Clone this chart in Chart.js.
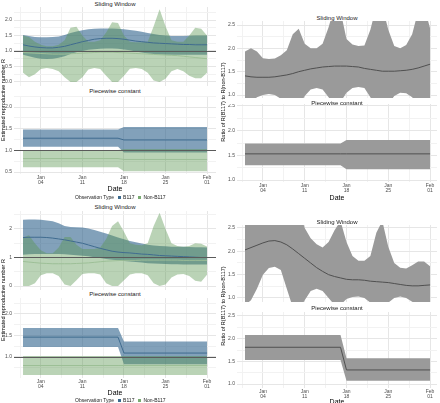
<!DOCTYPE html>
<html>
<head>
<meta charset="utf-8">
<script src="https://cdn.jsdelivr.net/npm/chart.js@4.4.1/dist/chart.umd.min.js"></script>
<style>
  body { margin: 0; background: #fff; width: 440px; height: 403px; position: relative; overflow: hidden;
         font-family: "Liberation Sans", Arial, sans-serif; color: #1a1a1a; }
  canvas { position: absolute; }
  .t { position: absolute; transform: translate(-50%, -50%); white-space: nowrap; line-height: 1; }
  .strip { font-size: 6px; color: #1a1a1a; }
  .xt { font-size: 7px; color: #000; }
  .yt { font-size: 5.5px; color: #000; transform: translate(-50%, -50%) rotate(-90deg); }
  .leg { font-size: 5px; color: #1a1a1a; display: flex; align-items: center; gap: 2px; }
  .key { display: inline-block; width: 3px; height: 3px; }
</style>
</head>
<body>
<script>
// days since Jan 1 (Jan 01 .. Feb 01)
const days = [0,1,2,3,4,5,6,7,8,9,10,11,12,13,14,15,16,17,18,19,20,21,22,23,24,25,26,27,28,29,30,31];
// piecewise constant: change point between Jan 17 and Jan 18
const pwDays = [0, 16, 17, 31];

const xTicks = [3, 10, 17, 24, 31];
const xTickLabels = [["Jan", "04"], ["Jan", "11"], ["Jan", "18"], ["Jan", "25"], ["Feb", "01"]];
const xMinor = [-0.5, 6.5, 13.5, 20.5, 27.5];

// ---- top left: sliding window (B117 / non-B117)
const a1BlueHi  = [1.52,1.48,1.45,1.44,1.44,1.45,1.47,1.52,1.58,1.63,1.67,1.70,1.72,1.73,1.73,1.73,1.72,1.70,1.68,1.65,1.62,1.58,1.55,1.52,1.50,1.48,1.48,1.48,1.49,1.50,1.50,1.50];
const a1BlueMid = [1.20,1.16,1.13,1.11,1.10,1.10,1.12,1.15,1.20,1.25,1.30,1.34,1.38,1.40,1.41,1.41,1.40,1.38,1.35,1.32,1.30,1.28,1.26,1.25,1.24,1.23,1.22,1.21,1.21,1.20,1.20,1.20];
const a1BlueLo  = [0.88,0.83,0.78,0.75,0.74,0.75,0.78,0.83,0.90,0.96,1.00,1.04,1.06,1.07,1.08,1.08,1.07,1.05,1.02,0.98,0.95,0.92,0.90,0.89,0.88,0.88,0.88,0.88,0.88,0.88,0.88,0.88];
const a1GreenHi  = [1.50,1.45,1.30,1.20,1.15,1.15,1.20,1.35,1.75,1.78,1.50,1.30,1.30,1.35,1.60,1.93,1.90,1.50,1.30,1.28,1.28,1.30,1.80,2.35,1.80,1.35,1.30,1.30,1.50,1.75,1.72,1.50];
const a1GreenMid = [0.95,0.94,0.93,0.92,0.91,0.90,0.90,0.90,0.91,0.92,0.93,0.94,0.95,0.96,0.96,0.96,0.95,0.94,0.93,0.92,0.91,0.90,0.89,0.88,0.87,0.86,0.85,0.83,0.81,0.79,0.77,0.75];
const a1GreenLo  = [0.30,0.15,0.25,0.42,0.45,0.42,0.35,0.15,0.00,0.00,0.15,0.40,0.45,0.42,0.20,0.00,0.00,0.20,0.43,0.45,0.42,0.30,0.05,0.00,0.10,0.35,0.42,0.35,0.20,0.12,0.12,0.30];
// ---- top left: piecewise constant
const a2BlueHi = [1.48,1.48,1.54,1.54], a2BlueMid = [1.28,1.28,1.24,1.24], a2BlueLo = [1.08,1.08,0.95,0.95];
const a2GreenHi = [1.01,1.01,1.03,1.03], a2GreenMid = [0.81,0.81,0.79,0.79], a2GreenLo = [0.61,0.61,0.52,0.52];

// ---- top right: ratio, sliding window
const b1Hi  = [1.93,2.00,1.93,1.79,1.77,1.78,1.85,1.96,2.30,2.42,2.10,2.00,2.00,2.10,2.45,2.90,2.80,2.20,2.08,2.05,2.06,2.40,2.90,2.90,2.40,2.05,2.00,2.07,2.30,2.80,2.90,2.43];
const b1Mid = [1.41,1.39,1.38,1.38,1.38,1.39,1.41,1.43,1.46,1.50,1.53,1.56,1.58,1.60,1.61,1.62,1.62,1.62,1.61,1.60,1.57,1.55,1.53,1.51,1.51,1.51,1.52,1.53,1.55,1.58,1.62,1.66];
const b1Lo  = [0.80,0.85,0.95,1.00,1.02,1.00,0.92,0.80,0.70,0.75,0.98,1.12,1.15,1.12,0.95,0.80,0.85,1.05,1.15,1.17,1.15,0.95,0.75,0.70,0.80,0.98,1.05,1.04,0.95,0.80,0.75,0.80];
// ---- top right: ratio, piecewise constant
const b2Hi = [1.74,1.74,1.81,1.81], b2Mid = [1.53,1.53,1.53,1.53], b2Lo = [1.30,1.30,1.22,1.22];

// ---- bottom left: sliding window
const c1BlueHi  = [2.32,2.33,2.33,2.32,2.30,2.27,2.20,2.10,2.07,2.06,2.05,2.02,1.96,1.90,1.84,1.77,1.70,1.64,1.58,1.53,1.49,1.45,1.42,1.40,1.39,1.38,1.38,1.38,1.37,1.36,1.36,1.35];
const c1BlueMid = [1.70,1.71,1.71,1.71,1.70,1.68,1.65,1.62,1.58,1.54,1.50,1.44,1.38,1.32,1.27,1.22,1.19,1.17,1.16,1.14,1.12,1.11,1.09,1.07,1.06,1.05,1.04,1.03,1.02,1.01,1.00,1.00];
const c1BlueLo  = [1.10,1.11,1.12,1.12,1.12,1.12,1.12,1.11,1.10,1.08,1.06,1.04,1.01,0.98,0.95,0.92,0.90,0.88,0.86,0.84,0.82,0.80,0.79,0.78,0.77,0.76,0.76,0.75,0.75,0.75,0.75,0.75];
const c1GreenHi  = [1.70,1.78,1.50,1.25,1.15,1.15,1.35,1.72,1.72,1.45,1.30,1.30,1.30,1.35,1.65,2.10,2.27,1.90,1.50,1.45,1.43,1.50,2.10,2.57,2.00,1.50,1.40,1.38,1.40,1.50,1.48,1.38];
const c1GreenMid = [0.86,0.84,0.82,0.80,0.79,0.78,0.78,0.78,0.78,0.79,0.80,0.81,0.83,0.85,0.87,0.88,0.89,0.90,0.90,0.90,0.91,0.91,0.91,0.91,0.91,0.91,0.91,0.90,0.90,0.90,0.90,0.90];
const c1GreenLo  = [0.00,0.00,0.10,0.38,0.45,0.45,0.35,0.05,0.00,0.20,0.42,0.45,0.45,0.40,0.10,0.00,0.00,0.20,0.40,0.45,0.45,0.38,0.10,0.00,0.05,0.30,0.40,0.42,0.35,0.18,0.15,0.40];
// ---- bottom left: piecewise constant
const c2BlueHi = [1.67,1.67,1.36,1.36], c2BlueMid = [1.46,1.46,1.09,1.09], c2BlueLo = [1.23,1.23,0.83,0.83];
const c2GreenHi = [1.02,1.02,1.02,1.02], c2GreenMid = [0.80,0.80,0.80,0.80], c2GreenLo = [0.58,0.58,0.58,0.58];

// ---- bottom right: ratio, sliding window
const d1Hi  = [2.90,2.90,2.90,2.90,2.90,2.90,2.90,2.90,2.90,2.90,2.50,2.28,2.15,2.08,2.20,2.45,2.65,2.20,1.90,1.80,1.80,1.90,2.40,2.65,2.10,1.75,1.65,1.63,1.70,1.78,1.78,1.68];
const d1Mid = [2.03,2.08,2.13,2.18,2.22,2.23,2.20,2.14,2.05,1.95,1.85,1.75,1.65,1.57,1.50,1.46,1.43,1.40,1.39,1.39,1.38,1.36,1.35,1.34,1.33,1.31,1.29,1.27,1.26,1.26,1.27,1.28];
const d1Lo  = [0.85,0.95,1.20,1.50,1.64,1.67,1.60,1.20,0.80,0.75,0.95,1.15,1.20,1.15,1.00,0.85,0.85,0.98,1.02,1.03,1.00,0.90,0.80,0.80,0.90,1.00,1.03,1.00,0.92,0.85,0.88,0.90];
// ---- bottom right: ratio, piecewise constant
const d2Hi = [2.08,2.08,1.57,1.57], d2Mid = [1.81,1.81,1.31,1.31], d2Lo = [1.53,1.53,1.07,1.07];

const BLUE_FILL = "rgba(46, 98, 140, 0.6)";
const BLUE_LINE = "#3f6b8f";
const GREEN_FILL = "rgba(90, 150, 80, 0.42)";
const GREEN_LINE = "#9dbf97";
const GREY_FILL = "#9a9a9a";
const GREY_LINE = "#505050";

const refLine = {
  id: "refLine",
  afterDatasetsDraw(chart, args, opts) {
    if (opts.value == null) return;
    const { ctx, chartArea: a, scales: { y } } = chart;
    const py = Math.round(y.getPixelForValue(opts.value)) + 0.5;
    ctx.save();
    ctx.strokeStyle = opts.color;
    ctx.lineWidth = 1;
    ctx.beginPath();
    ctx.moveTo(a.left, py);
    ctx.lineTo(a.right, py);
    ctx.stroke();
    ctx.restore();
  }
};

function pts(xs, ys) { return xs.map((x, i) => ({ x, y: ys[i] })); }

// lower edge then upper edge filled back to it
function band(xs, lo, hi, color) {
  return [
    { data: pts(xs, lo), borderWidth: 0, borderColor: "rgba(0,0,0,0)", fill: false },
    { data: pts(xs, hi), borderWidth: 0, borderColor: "rgba(0,0,0,0)", fill: "-1", backgroundColor: color }
  ];
}
function line(xs, ys, color) {
  return { data: pts(xs, ys), borderWidth: 1, borderColor: color, fill: false };
}

function fixAxis(size, horizontal) {
  return s => {
    if (horizontal) s.height = size; else s.width = size;
    s.paddingLeft = s.paddingRight = s.paddingTop = s.paddingBottom = 0;
  };
}

function panel(p) {
  const yW = 14;
  const xH = p.xLabels ? 20 : 0;
  const c = document.createElement("canvas");
  c.width = p.right - p.left + yW;
  c.height = p.bottom - p.top + xH;
  c.style.left = (p.left - yW) + "px";
  c.style.top = p.top + "px";
  document.body.appendChild(c);

  const xAll = xTicks.concat(xMinor).sort((a, b) => a - b);
  const yAll = p.yTicks.concat(p.yMinor).sort((a, b) => a - b);
  const gridColor = major => ctx => major.includes(ctx.tick.value) ? "#e6e6e6" : "#f2f2f2";

  // datasets listed bottom layer first; later ones get a lower order and end up on top
  const n = p.datasets.length;
  const ds = p.datasets.map((d, i) => Object.assign({ order: n - i, pointRadius: 0 }, d));

  new Chart(c, {
    type: "line",
    data: { datasets: ds },
    options: {
      responsive: false,
      animation: false,
      devicePixelRatio: 1,
      layout: { padding: 0 },
      plugins: {
        legend: { display: false },
        tooltip: { enabled: false },
        refLine: { value: p.ref, color: "#5a5a5a" }
      },
      scales: {
        x: {
          type: "linear", min: p.xMin, max: p.xMax,
          border: { display: false },
          grid: { color: gridColor(xTicks), drawTicks: false },
          afterBuildTicks: s => { s.ticks = xAll.map(v => ({ value: v })); },
          afterFit: fixAxis(xH, true),
          ticks: {
            display: !!p.xLabels, autoSkip: false, maxRotation: 0, padding: 1,
            color: "#4d4d4d", font: { size: 5, lineHeight: 1.05, family: "Liberation Sans" },
            callback: v => { const k = xTicks.indexOf(v); return k < 0 ? "" : xTickLabels[k]; }
          }
        },
        y: {
          type: "linear", min: p.yMin, max: p.yMax,
          border: { display: false },
          grid: { color: gridColor(p.yTicks), drawTicks: false },
          afterBuildTicks: s => { s.ticks = yAll.map(v => ({ value: v })); },
          afterFit: fixAxis(yW, false),
          ticks: {
            autoSkip: false, padding: 2,
            color: "#4d4d4d", font: { size: 5, family: "Liberation Sans" },
            callback: v => p.yTicks.includes(v) ? v.toFixed(p.dec) : ""
          }
        }
      }
    },
    plugins: [refLine]
  });
}

function text(cls, x, y, s) {
  const d = document.createElement("div");
  d.className = "t " + cls;
  d.style.left = x + "px";
  d.style.top = y + "px";
  d.textContent = s;
  document.body.appendChild(d);
}

function legend(x, y) {
  const d = document.createElement("div");
  d.className = "leg";
  d.style.position = "absolute";
  d.style.left = x + "px";
  d.style.top = (y - 3) + "px";
  d.innerHTML = '<span>Observation Type</span><span class="key" style="background:#3d6a8e;margin-left:2px"></span><span>B117</span>' +
    '<span class="key" style="background:#7aab72;margin-left:2px"></span><span>Non-B117</span>';
  document.body.appendChild(d);
}

const L = { left: 14, right: 216, xMin: -1.52, xMax: 32.5 };
const R = { left: 237, right: 437, xMin: -1.34, xMax: 32.16 };

function rSets(xs, bHi, bMid, bLo, gHi, gMid, gLo) {
  return [
    ...band(xs, bLo, bHi, BLUE_FILL),
    ...band(xs, gLo, gHi, GREEN_FILL),
    line(xs, bMid, BLUE_LINE),
    line(xs, gMid, GREEN_LINE)
  ];
}
function ratioSets(xs, hi, mid, lo) {
  return [...band(xs, lo, hi, GREY_FILL), line(xs, mid, GREY_LINE)];
}

// ---- top left
panel(Object.assign({}, L, { top: 7, bottom: 86, yMin: -0.13, yMax: 2.42, yTicks: [0, 0.5, 1, 1.5, 2], yMinor: [0.25, 0.75, 1.25, 1.75, 2.25], dec: 1, ref: 1,
  datasets: rSets(days, a1BlueHi, a1BlueMid, a1BlueLo, a1GreenHi, a1GreenMid, a1GreenLo) }));
panel(Object.assign({}, L, { top: 96, bottom: 174, yMin: 0.454, yMax: 2.254, yTicks: [0.5, 1, 1.5, 2], yMinor: [0.75, 1.25, 1.75, 2.25], dec: 1, ref: 1, xLabels: true,
  datasets: rSets(pwDays, a2BlueHi, a2BlueMid, a2BlueLo, a2GreenHi, a2GreenMid, a2GreenLo) }));
// ---- top right
panel(Object.assign({}, R, { top: 21, bottom: 98, yMin: 0.936, yMax: 2.586, yTicks: [1, 1.5, 2, 2.5], yMinor: [1.25, 1.75, 2.25], dec: 1,
  datasets: ratioSets(days, b1Hi, b1Mid, b1Lo) }));
panel(Object.assign({}, R, { top: 104, bottom: 182, yMin: 0.96, yMax: 2.54, yTicks: [1, 1.5, 2, 2.5], yMinor: [1.25, 1.75, 2.25], dec: 1, xLabels: true,
  datasets: ratioSets(pwDays, b2Hi, b2Mid, b2Lo) }));
// ---- bottom left
panel(Object.assign({}, L, { top: 211, bottom: 290, yMin: -0.14, yMax: 2.63, yTicks: [0, 1, 2], yMinor: [0.5, 1.5, 2.5], dec: 0, ref: 1,
  datasets: rSets(days, c1BlueHi, c1BlueMid, c1BlueLo, c1GreenHi, c1GreenMid, c1GreenLo) }));
panel(Object.assign({}, L, { top: 298, bottom: 378, yMin: 0.51, yMax: 2.37, yTicks: [1, 1.5, 2], yMinor: [0.75, 1.25, 1.75, 2.25], dec: 1, ref: 1, xLabels: true,
  datasets: rSets(pwDays, c2BlueHi, c2BlueMid, c2BlueLo, c2GreenHi, c2GreenMid, c2GreenLo) }));
// ---- bottom right
panel(Object.assign({}, R, { top: 225, bottom: 302, yMin: 0.914, yMax: 2.564, yTicks: [1, 1.5, 2, 2.5], yMinor: [1.25, 1.75, 2.25], dec: 1,
  datasets: ratioSets(days, d1Hi, d1Mid, d1Lo) }));
panel(Object.assign({}, R, { top: 312, bottom: 388, yMin: 0.912, yMax: 2.588, yTicks: [1, 1.5, 2, 2.5], yMinor: [1.25, 1.75, 2.25], dec: 1, xLabels: true,
  datasets: ratioSets(pwDays, d2Hi, d2Mid, d2Lo) }));

// strip labels, axis titles, legends
text("strip", 115, 4, "Sliding Window");
text("strip", 115, 90.5, "Piecewise constant");
text("strip", 337, 17.5, "Sliding Window");
text("strip", 337, 103, "Piecewise constant");
text("strip", 115, 207, "Sliding Window");
text("strip", 115, 294, "Piecewise constant");
text("strip", 337, 222, "Sliding Window");
text("strip", 337, 308, "Piecewise constant");

text("xt", 115, 187.5, "Date");
text("xt", 337, 197, "Date");
text("xt", 115, 391.5, "Date");
text("xt", 337, 400.5, "Date");

text("yt", 3.5, 100, "Estimated reproductive number R");
text("yt", 224, 102, "Ratio of R(B117) to R(non-B117)");
text("yt", 3.5, 300, "Estimated reproductive number R");
text("yt", 224, 306, "Ratio of R(B117) to R(non-B117)");

legend(75, 197);
legend(75, 400);
</script>
</body>
</html>
